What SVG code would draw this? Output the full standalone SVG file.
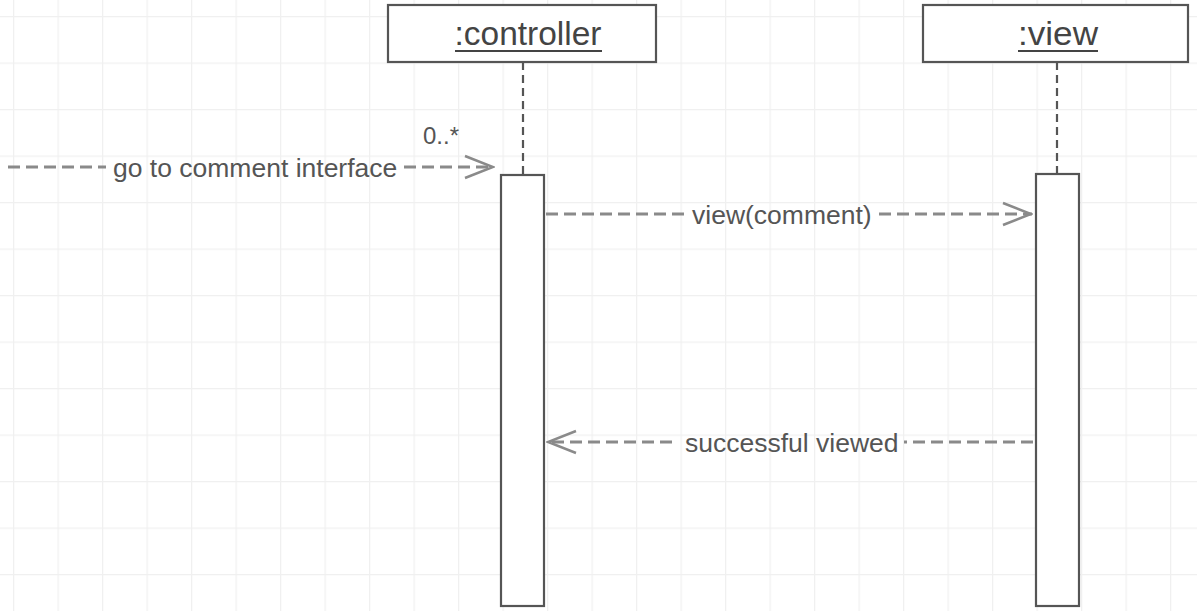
<svg xmlns="http://www.w3.org/2000/svg" width="1197" height="611" viewBox="0 0 1197 611">
<defs>
<pattern id="grid" x="13" y="16" width="44.5" height="46.5" patternUnits="userSpaceOnUse">
<path d="M0.5 0 V46.5 M0 0.5 H44.5" fill="none" stroke="#f0f0f0" stroke-width="1.5"/>
</pattern>
<marker id="open" viewBox="0 0 32 26" refX="31" refY="13" markerWidth="32" markerHeight="26" markerUnits="userSpaceOnUse" orient="auto">
<path d="M2 2 L30 13 L2 24" fill="none" stroke="#8a8a8a" stroke-width="2.5"/>
</marker>
</defs>
<style>
.lbl{font-family:"Liberation Sans",Arial,sans-serif;font-size:26.5px;fill:#555}
.title{font-family:"Liberation Sans",Arial,sans-serif;font-size:34px;fill:#444;text-anchor:middle}
.box{fill:#fff;stroke:#555;stroke-width:2.2}
.life{stroke:#555;stroke-width:2.2;stroke-dasharray:8 5;fill:none}
.msg{stroke:#8a8a8a;stroke-width:3;stroke-dasharray:12 6;fill:none}
.ul{stroke:#444;stroke-width:2}
</style>
<rect width="1197" height="611" fill="#fff"/>
<rect width="1197" height="611" fill="url(#grid)"/>
<g id="controller">
<line class="life" x1="523" y1="62" x2="523" y2="175"/>
<rect class="box" x="388" y="5" width="268" height="57"/>
<text class="title" x="528" y="45" textLength="147" lengthAdjust="spacingAndGlyphs">:controller</text>
<line class="ul" x1="455" y1="51" x2="602" y2="51"/>
<rect class="box" x="501" y="175" width="43" height="431"/>
</g>
<g id="view">
<line class="life" x1="1057" y1="62" x2="1057" y2="174"/>
<rect class="box" x="923" y="5" width="265" height="57"/>
<text class="title" x="1058" y="45" textLength="80" lengthAdjust="spacingAndGlyphs">:view</text>
<line class="ul" x1="1018" y1="51" x2="1098" y2="51"/>
<rect class="box" x="1036" y="174" width="43" height="432"/>
</g>
<g id="connectors">
<line class="msg" x1="8" y1="167" x2="106" y2="167"/>
<line class="msg" x1="404" y1="167" x2="494" y2="167" marker-end="url(#open)"/>
<line class="msg" x1="546" y1="214" x2="684" y2="214"/>
<line class="msg" x1="879" y1="214" x2="1032" y2="214" marker-end="url(#open)"/>
<line class="msg" x1="1033" y1="442" x2="904" y2="442"/>
<line class="msg" x1="672" y1="442" x2="547" y2="442" marker-end="url(#open)"/>
<text class="lbl" x="113" y="177">go to comment interface</text>
<text class="lbl" x="423" y="144" style="font-size:24px">0..*</text>
<text class="lbl" x="692" y="224">view(comment)</text>
<text class="lbl" x="685" y="452">successful viewed</text>
</g>
</svg>
